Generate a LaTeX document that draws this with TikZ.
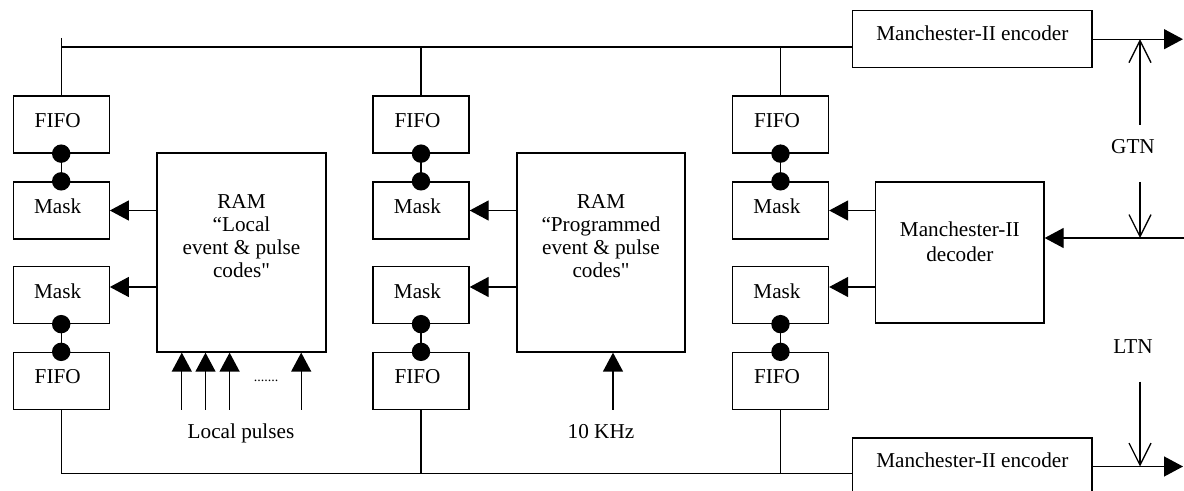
\documentclass[tikz,border=0pt]{standalone}
\usepackage{fontspec}
\setmainfont{Liberation Serif}
\newfontfamily\qfont{Liberation Serif}
\usetikzlibrary{arrows.meta}
\begin{document}
\begin{tikzpicture}[x=0.5pt,y=-0.5pt, line width=0.65pt,
  font=\fontsize{10.6}{11.65}\selectfont,
  sbox/.style={draw, inner sep=0pt, minimum width=48pt, minimum height=28.5pt,
    label={[xshift=-1.75pt,yshift=2pt]center:#1}},
  bigbox/.style={draw, inner sep=0pt},
  arr/.style={-{Triangle[length=9.5pt,width=10pt]}},
  oarr/.style={-{Straight Barb[length=11pt,width=11pt]}},
  dot/.style={fill=black},
  txt/.style={align=center, inner sep=0pt}]
\useasboundingbox (0,0) rectangle (1184,491);
\clip (0,0) rectangle (1184,491);

% columns of FIFO / Mask
\node[sbox=FIFO] (f1t) at (61.2,124.5) {};
\node[sbox=Mask] (m1t) at (61.2,210.5) {};
\node[sbox=Mask] (m1b) at (61.2,295) {};
\node[sbox=FIFO] (f1b) at (61.2,381) {};
\node[sbox=FIFO] (f2t) at (421,124.5) {};
\node[sbox=Mask] (m2t) at (421,210.5) {};
\node[sbox=Mask] (m2b) at (421,295) {};
\node[sbox=FIFO] (f2b) at (421,381) {};
\node[sbox=FIFO] (f3t) at (780.5,124.5) {};
\node[sbox=Mask] (m3t) at (780.5,210.5) {};
\node[sbox=Mask] (m3b) at (780.5,295) {};
\node[sbox=FIFO] (f3b) at (780.5,381) {};

% RAMs
\node[bigbox, minimum width=84.5pt, minimum height=99.5pt] (ram1) at (241.5,252.5) {};
\node[txt, anchor=base] (ram1t) at (241.5,278) {RAM\\“Local\\event \& pulse\\codes{\qfont"}};
\node[bigbox, minimum width=84pt, minimum height=99.5pt] (ram2) at (601,252.5) {};
\node[txt, anchor=base] (ram2t) at (601,278) {RAM\\“Programmed\\event \& pulse\\codes{\qfont"}};

% decoder
\node[bigbox, minimum width=84.2pt, minimum height=70.5pt] (dec) at (959.8,252.5) {};
\node[txt, anchor=base, font=\fontsize{10.6}{12.5}\selectfont] (dect) at (959.8,261.7) {Manchester-II\\decoder};

% encoders
\node[bigbox, minimum width=119.75pt, minimum height=28.5pt,
  label={[yshift=3pt]center:Manchester-II encoder}] (enc1) at (972.3,39.2) {};
\node[bigbox, minimum width=119.75pt, minimum height=28.5pt,
  label={[yshift=3pt]center:Manchester-II encoder}] (enc2) at (972.3,466.5) {};

% top bus
\coordinate (bt) at (61.2,38);
\coordinate (b1) at (61.2,47);
\draw (bt) -- (f1t.north);
\draw (b1) -- (b1 -| enc1.west);
\draw (b1 -| f2t.north) -- (f2t.north);
\draw (b1 -| f3t.north) -- (f3t.north);

% bottom bus
\coordinate (b2) at (61.2,473.3);
\draw (f1b.south) -- (b2) -- (b2 -| enc2.west);
\draw (f2b.south) -- (f2b.south |- b2);
\draw (f3b.south) -- (f3b.south |- b2);

% FIFO-Mask dotted links
\foreach \a/\b in {f1t/m1t, f2t/m2t, f3t/m3t}{
  \draw (\a.south) -- (\b.north);
  \fill[dot] (\a.south) circle (4.6pt);
  \fill[dot] (\b.north) circle (4.6pt);
}
\foreach \a/\b in {m1b/f1b, m2b/f2b, m3b/f3b}{
  \draw (\a.south) -- (\b.north);
  \fill[dot] (\a.south) circle (4.6pt);
  \fill[dot] (\b.north) circle (4.6pt);
}

% RAM -> Mask arrows
\draw[arr] (m1t.east -| ram1.west) -- (m1t.east);
\draw[arr] ([yshift=4pt]m1b.east -| ram1.west) -- ([yshift=4pt]m1b.east);
\draw[arr] (m2t.east -| ram2.west) -- (m2t.east);
\draw[arr] ([yshift=4pt]m2b.east -| ram2.west) -- ([yshift=4pt]m2b.east);
\draw[arr] (m3t.east -| dec.west) -- (m3t.east);
\draw[arr] ([yshift=4pt]m3b.east -| dec.west) -- ([yshift=4pt]m3b.east);

% local pulses
\foreach \x [count=\i] in {181.8,205.5,229.6,301.2}{
  \coordinate (lp\i) at (\x,410);
  \draw[arr] (lp\i) -- (lp\i |- ram1.south);
}
\node[inner sep=0pt, font=\fontsize{7}{8}\selectfont, anchor=base] (dots) at (266,382) {.......};
\node[anchor=base, inner sep=0pt] (lpl) at (241,439) {Local pulses};

% 10 KHz
\coordinate (k1) at (613,410);
\draw[arr] (k1) -- (k1 |- ram2.south);
\node[anchor=base, inner sep=0pt] (kl) at (601,439) {10 KHz};

% outputs
\coordinate (o1) at (1183,39.2);
\coordinate (o2) at (1183,466.5);
\draw[arr] (enc1.east) -- (o1);
\draw[arr] (enc2.east) -- (o2);

% GTN
\coordinate (g1) at (1140,125);
\draw[oarr] (g1) -- (g1 |- enc1.east);
\node[inner sep=0pt] (gtn) at (1133,147) {GTN};
\coordinate (gin) at (1184,238);
\coordinate (g2) at (1140,182);
\draw[arr] (gin) -- (gin -| dec.east);
\draw[oarr] (g2) -- (g2 |- gin);

% LTN
\node[inner sep=0pt] (ltn) at (1133,346.7) {LTN};
\coordinate (l1) at (1140,381.7);
\draw[oarr] (l1) -- (l1 |- enc2.east);
\end{tikzpicture}
\end{document}
